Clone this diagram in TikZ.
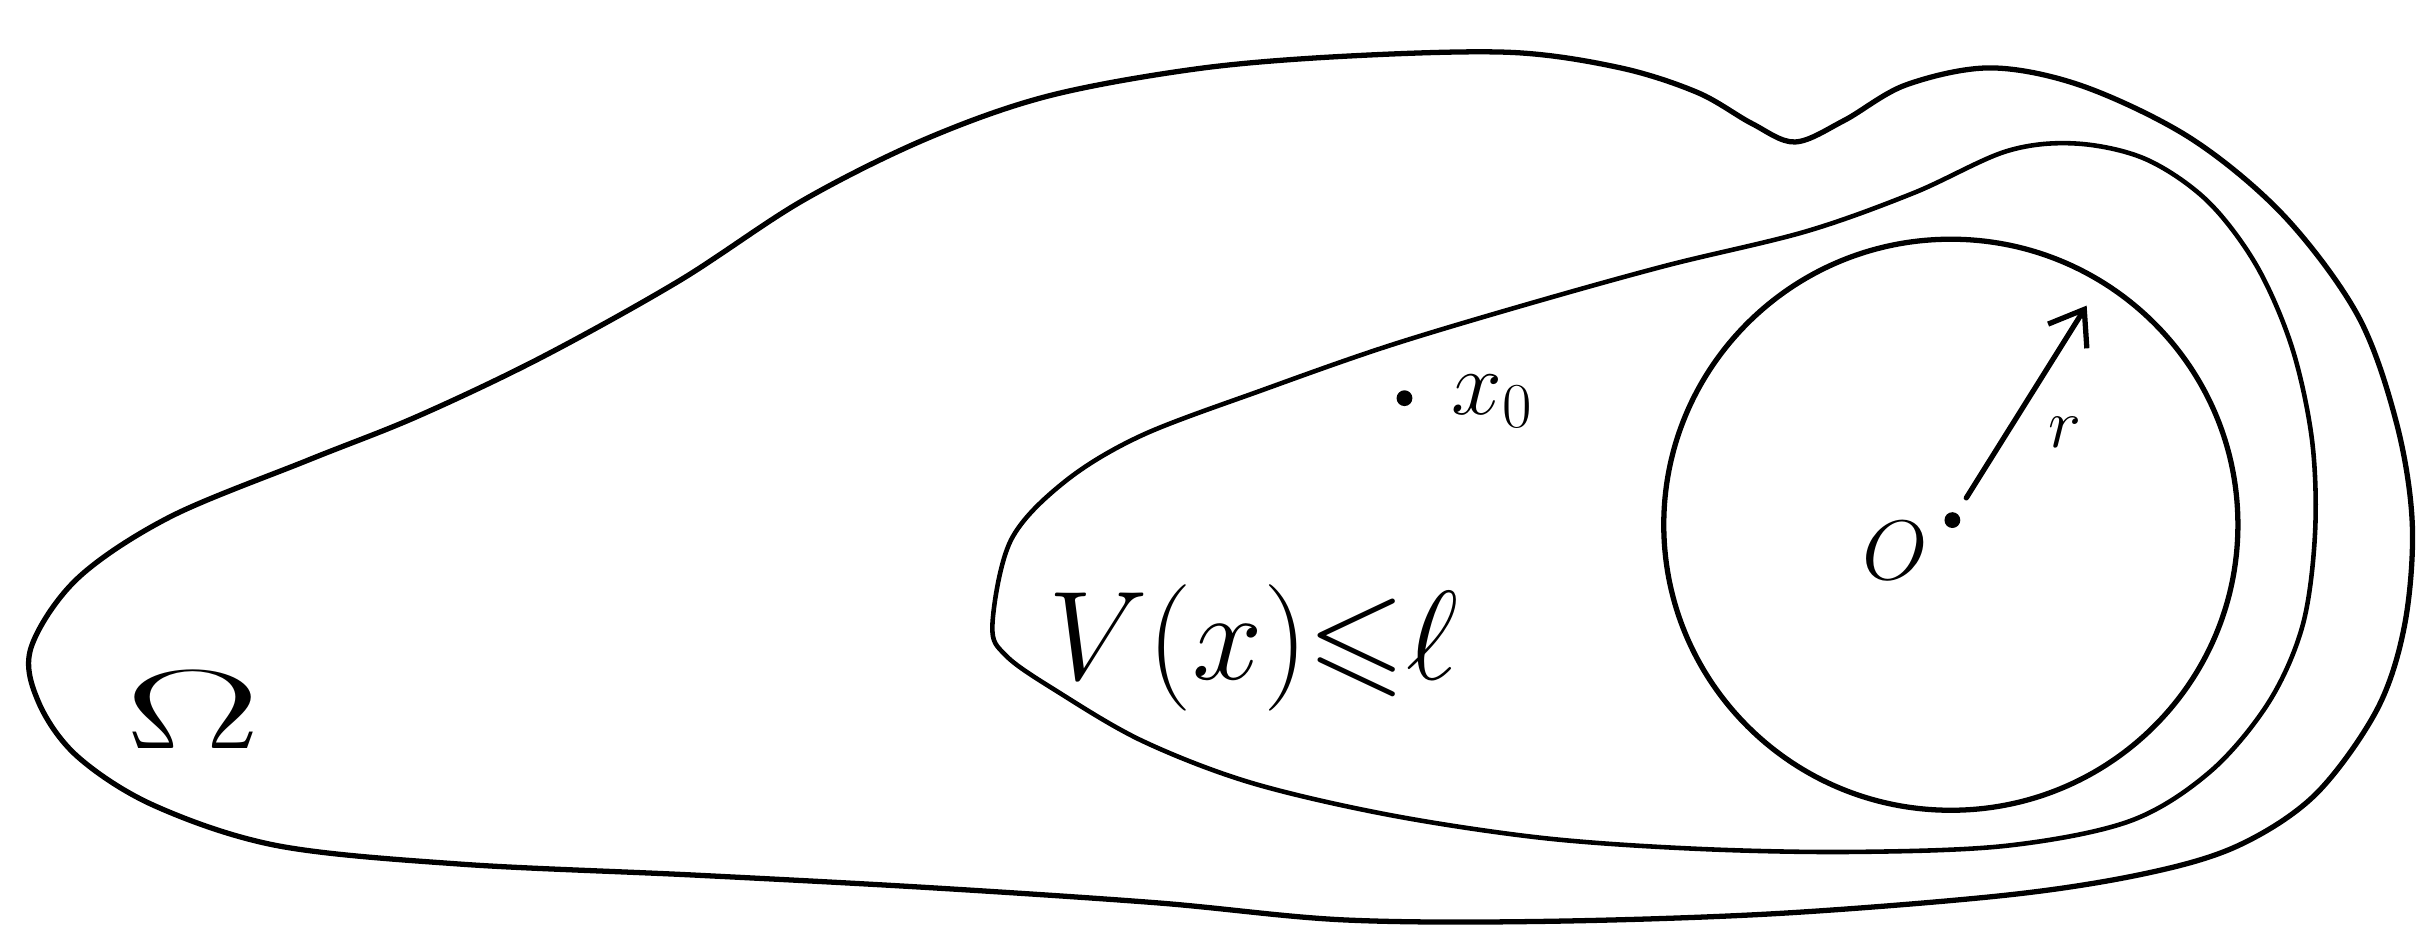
\RequirePackage{fix-cm}
\documentclass[tikz,border=0pt]{standalone}
\usepackage{amssymb}
\usetikzlibrary{arrows.meta}
\begin{document}
\begin{tikzpicture}[
x=0.015434cm, y=-0.015434cm,
contour/.style={line width=1.5pt, line join=round, line cap=round},
pt/.style={circle, fill, inner sep=0pt, minimum size=4.5pt},
lbl/.style={inner sep=0pt}
]
\useasboundingbox (0,0) rectangle (1568,601);
% the domain Omega
\draw[contour] plot[smooth cycle, tension=0.55] coordinates {
(20,420) (50,375) (110,335) (200,298) (270,270) (350,232) (440,182)
(520,130) (600,90) (680,62) (780,44) (880,36) (980,34) (1050,44)
(1100,60) (1135,80) (1163,92) (1195,78) (1235,55) (1290,44) (1350,56)
(1420,90) (1480,140) (1528,205) (1553,275) (1563,340) (1558,405)
(1540,460) (1500,515) (1450,548) (1390,566) (1300,580) (1150,592)
(1000,597) (870,596) (750,585) (600,575) (450,567) (300,560)
(180,548) (100,522) (50,490) (25,455)};
% sublevel set
\draw[contour, line width=1.3pt] plot[smooth cycle, tension=0.55] coordinates {
(643,405) (655,350) (690,312) (740,282) (820,252) (900,224) (990,197)
(1080,172) (1170,150) (1240,125) (1300,98) (1345,93) (1390,103)
(1430,130) (1462,172) (1485,225) (1498,285) (1500,345) (1492,405)
(1470,455) (1432,500) (1380,532) (1300,548) (1200,552) (1100,550)
(1000,543) (900,528) (810,507) (740,480) (685,448) (652,425)};
% ball
\draw[contour] (1264,340) ellipse [x radius=186, y radius=185];
\node[pt] (o) at (1265,337) {};
\coordinate (rtip) at (1352,198);
\draw[contour, shorten <=5pt, -{Straight Barb[length=9pt,width=13pt]}] (o) -- (rtip);
\node[lbl, font=\fontsize{24}{26}\selectfont] (olbl) at (1228,357) {$O$};
\node[lbl, font=\fontsize{20}{22}\selectfont] (rlbl) at (1338,280) {$r$};
\node[pt] (x0) at (910,258) {};
\node[lbl, font=\fontsize{26}{28}\selectfont, anchor=west] (x0lbl) at (940,260) {$x_0$};
\node[lbl, font=\fontsize{36}{40}\selectfont] (vlbl) at (812,420) {$V(x){\leqslant}\ell$};
\node[lbl, font=\fontsize{32}{34}\selectfont, xscale=1.8] (omega) at (125,460) {$\Omega$};
\end{tikzpicture}
\end{document}
